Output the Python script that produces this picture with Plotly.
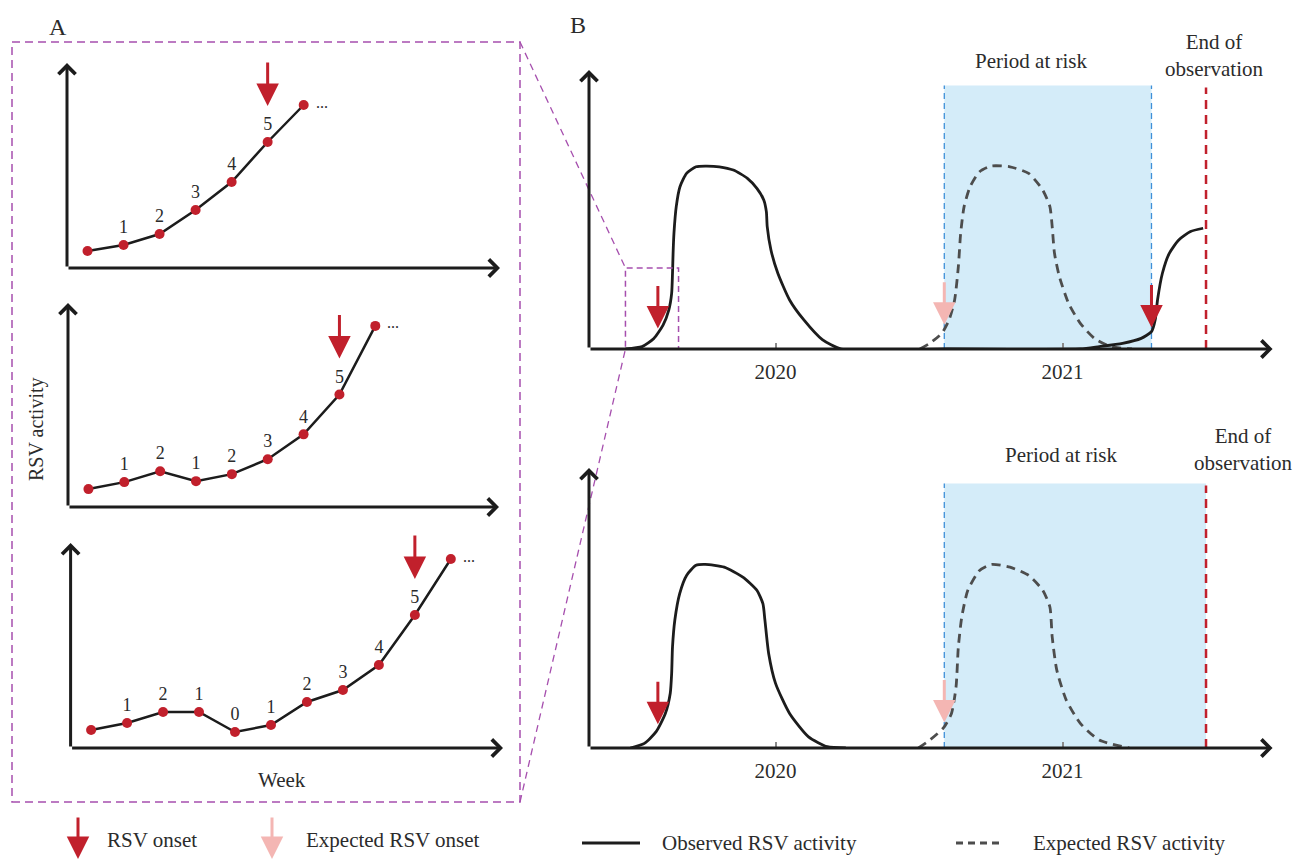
import numpy as np
import plotly.graph_objects as go

W, H = 1295, 865
FONT = "Liberation Serif, Times New Roman, serif"
RED = "#C1202C"
PINK = "#F4B6B3"
BLUE_FILL = "#D4ECF9"
BLUE_LINE = "#3E8FD8"
PURPLE = "#A64FAE"
GREY_DASH = "#4d4d4d"
INK = "#1c1c1c"
TXT = "#2b2b2b"

# ---------------- Data: panel A (weekly RSV activity, consecutive-increase counts) ----
a1_week = [0, 1, 2, 3, 4, 5, 6]
a1_activity = [1.7, 2.3, 3.4, 5.8, 8.6, 12.6, 16.3]
a1_label = ["", "1", "2", "3", "4", "5", ""]

a2_week = [0, 1, 2, 3, 4, 5, 6, 7, 8]
a2_activity = [1.8, 2.5, 3.6, 2.6, 3.3, 4.8, 7.3, 11.3, 18.2]
a2_label = ["", "1", "2", "1", "2", "3", "4", "5", ""]

a3_week = [0, 1, 2, 3, 4, 5, 6, 7, 8, 9, 10]
a3_activity = [1.8, 2.5, 3.6, 3.6, 1.6, 2.3, 4.6, 5.8, 8.3, 13.3, 18.9]
a3_label = ["", "1", "2", "1", "0", "1", "2", "3", "4", "5", ""]

onset_count = "5"

# ---------------- Data: panel B (schematic seasons, activity relative to peak) ------
b1_obs_year = [2019.477, 2019.535, 2019.576, 2019.608, 2019.628, 2019.638, 2019.641,
               2019.643, 2019.646, 2019.654, 2019.667, 2019.690, 2019.723, 2019.755,
               2019.804, 2019.853, 2019.902, 2019.935, 2019.959, 2019.968, 2019.971,
               2019.984, 2020.008, 2020.049, 2020.098, 2020.163, 2020.229, 2020.6,
               2021.062, 2021.128, 2021.209, 2021.274, 2021.310, 2021.323, 2021.331,
               2021.348, 2021.372, 2021.405, 2021.446, 2021.490]
b1_obs_value = [0, 0.013, 0.058, 0.131, 0.213, 0.304, 0.414,
                0.523, 0.632, 0.778, 0.887, 0.960, 0.996, 1.0,
                0.996, 0.978, 0.933, 0.878, 0.815, 0.751, 0.669,
                0.541, 0.414, 0.268, 0.160, 0.051, 0, 0,
                0, 0.013, 0.031, 0.058, 0.095, 0.160, 0.268,
                0.414, 0.523, 0.596, 0.642, 0.660]

b1_exp_year = [2020.503, 2020.539, 2020.580, 2020.605, 2020.624, 2020.637, 2020.645,
               2020.657, 2020.678, 2020.711, 2020.752, 2020.817, 2020.882, 2020.931,
               2020.956, 2020.964, 2020.972, 2020.989, 2021.021, 2021.062, 2021.111,
               2021.168, 2021.242]
b1_exp_value = [0, 0.033, 0.087, 0.160, 0.268, 0.450, 0.632,
                0.778, 0.887, 0.969, 1.0, 0.996, 0.960, 0.869,
                0.778, 0.669, 0.523, 0.396, 0.250, 0.140, 0.058,
                0.013, 0]

b2_obs_year = [2019.494, 2019.543, 2019.584, 2019.616, 2019.633, 2019.638, 2019.641,
               2019.649, 2019.666, 2019.690, 2019.723, 2019.755, 2019.821, 2019.886,
               2019.935, 2019.956, 2019.963, 2019.976, 2020.000, 2020.049, 2020.115,
               2020.180, 2020.245]
b2_obs_value = [0, 0.025, 0.089, 0.188, 0.297, 0.406, 0.551,
                0.696, 0.841, 0.940, 0.995, 1.0, 0.985, 0.931,
                0.859, 0.786, 0.696, 0.515, 0.352, 0.188, 0.061,
                0.007, 0]

b2_exp_year = [2020.498, 2020.539, 2020.585, 2020.613, 2020.629, 2020.637, 2020.649,
               2020.670, 2020.711, 2020.752, 2020.817, 2020.882, 2020.931, 2020.956,
               2020.964, 2020.980, 2021.013, 2021.062, 2021.128, 2021.233]
b2_exp_value = [0, 0.045, 0.109, 0.188, 0.333, 0.551, 0.714,
                0.859, 0.967, 1.0, 0.985, 0.940, 0.859, 0.768,
                0.605, 0.424, 0.261, 0.134, 0.043, 0]

obs_onset_2020 = 2019.59
exp_onset_2021 = 2020.588
b1_obs_onset_2021 = 2021.310
end_of_observation = 2021.5
year_ticks = [2020, 2021]
year_labels = ["2020", "2021"]

# ---------------- Layout geometry (pixels) ----------------
def pxx(p):
    return p / W


def pxy(p):
    return 1 - p / H


# name: (x_left, x_right, y_bottom, y_top) in pixels
geo = {
    "A1": (67, 500, 268, 63),
    "A2": (68, 499, 507, 303),
    "A3": (70.6, 503, 748, 543),
    "B1": (589, 1272.6, 349, 70),
    "B2": (589, 1272.6, 748, 468),
}
axes_ids = {"A1": "", "A2": "2", "A3": "3", "B1": "4", "B2": "5"}
A_XR = [-0.57, 11.45]
A_YR = [0, 20.5]
B_XR = [2019.35, 2021.732]
B_YR = [0, 1.525]

fig = go.Figure()
annotations = []
shapes = []
layout_axes = {}


def text_ann(px, py, text, size=21, **kw):
    d = dict(x=pxx(px), y=pxy(py), xref="paper", yref="paper", text=text, showarrow=False,
             xanchor="center", yanchor="middle", font=dict(family=FONT, size=size, color=TXT))
    d.update(kw)
    return d


for name, (xl, xr, yb, yt) in geo.items():
    sfx = axes_ids[name]
    isB = name.startswith("B")
    xr_ = B_XR if isB else A_XR
    yr_ = B_YR if isB else A_YR
    xa = dict(domain=[pxx(xl), pxx(xr)], range=xr_, anchor="y" + sfx,
              showgrid=False, zeroline=False, showline=False, fixedrange=True)
    if isB:
        xa.update(visible=True, tickmode="array", tickvals=year_ticks, ticktext=year_labels,
                  ticks="inside", ticklen=6, tickwidth=1.5, tickcolor="#8a8a8a",
                  tickfont=dict(family=FONT, size=21, color=TXT), ticklabelstandoff=8)
    else:
        xa.update(visible=False)
    ya = dict(domain=[pxy(yb), pxy(yt)], range=yr_, anchor="x" + sfx, visible=False,
              showgrid=False, zeroline=False, fixedrange=True)
    layout_axes["xaxis" + sfx] = xa
    layout_axes["yaxis" + sfx] = ya
    # axis arrows
    xref, yref = "x" + sfx, "y" + sfx
    for tip, tail in [((xr_[1], yr_[0]), (xr_[0], yr_[0])), ((xr_[0], yr_[1]), (xr_[0], yr_[0]))]:
        annotations.append(dict(x=tip[0], y=tip[1], ax=tail[0], ay=tail[1], xref=xref, yref=yref,
                                axref=xref, ayref=yref, text="", showarrow=True, arrowhead=4,
                                arrowsize=1.1, arrowwidth=3, arrowcolor=INK, standoff=0))

# ---------------- Panel A traces ----------------
for name, wk, act, lab in [("A1", a1_week, a1_activity, a1_label),
                           ("A2", a2_week, a2_activity, a2_label),
                           ("A3", a3_week, a3_activity, a3_label)]:
    sfx = axes_ids[name]
    fig.add_trace(go.Scatter(x=wk, y=act, mode="lines+markers+text", text=lab,
                             textposition="top center",
                             textfont=dict(family=FONT, size=18, color=TXT),
                             line=dict(color=INK, width=2.5),
                             marker=dict(color=RED, size=10),
                             xaxis="x" + sfx, yaxis="y" + sfx, showlegend=False, cliponaxis=False))
    k = lab.index(onset_count)
    annotations.append(dict(x=wk[k], y=act[k], xref="x" + sfx, yref="y" + sfx, text="",
                            showarrow=True, arrowhead=2, arrowsize=1.5, arrowwidth=3,
                            arrowcolor=RED, ax=0, ay=-45, yshift=36))
    annotations.append(dict(x=wk[-1], y=act[-1], xref="x" + sfx, yref="y" + sfx, text="...",
                            showarrow=False, xanchor="left", yanchor="middle", xshift=10, yshift=3,
                            font=dict(family=FONT, size=16, color=TXT)))

# ---------------- Panel B ----------------
for name, oy, ov, ey, ev, risk_end in [("B1", b1_obs_year, b1_obs_value, b1_exp_year, b1_exp_value, b1_obs_onset_2021),
                                       ("B2", b2_obs_year, b2_obs_value, b2_exp_year, b2_exp_value, end_of_observation)]:
    sfx = axes_ids[name]
    xref, yref = "x" + sfx, "y" + sfx
    shapes.append(dict(type="rect", xref=xref, yref=yref, x0=exp_onset_2021, x1=risk_end,
                       y0=0, y1=1.44, fillcolor=BLUE_FILL, line=dict(width=0), layer="below"))
    shapes.append(dict(type="line", xref=xref, yref=yref, x0=exp_onset_2021, x1=exp_onset_2021,
                       y0=0, y1=1.44, line=dict(color=BLUE_LINE, width=1.3, dash="6px,4px"), layer="below"))
    if risk_end != end_of_observation:
        shapes.append(dict(type="line", xref=xref, yref=yref, x0=risk_end, x1=risk_end,
                           y0=0, y1=1.44, line=dict(color=BLUE_LINE, width=1.3, dash="6px,4px"), layer="below"))
    shapes.append(dict(type="line", xref=xref, yref=yref, x0=end_of_observation, x1=end_of_observation,
                       y0=0, y1=1.43, line=dict(color=RED, width=2.5, dash="9px,6px")))
    fig.add_trace(go.Scatter(x=ey, y=ev, mode="lines", line=dict(color=GREY_DASH, width=2.8, dash="9px,6px",
                             shape="spline", smoothing=0.6), xaxis=xref, yaxis=yref, showlegend=False))
    fig.add_trace(go.Scatter(x=oy, y=ov, mode="lines", line=dict(color=INK, width=2.8,
                             shape="spline", smoothing=0.6), xaxis=xref, yaxis=yref, showlegend=False))
    # onset arrows
    arrows = [(obs_onset_2020, float(np.interp(obs_onset_2020, oy, ov)), RED),
              (exp_onset_2021, float(np.interp(exp_onset_2021, ey, ev)), PINK)]
    if name == "B1":
        arrows.append((b1_obs_onset_2021, float(np.interp(b1_obs_onset_2021, oy, ov)), RED))
    for ax_, av_, col in arrows:
        annotations.append(dict(x=ax_, y=av_, xref=xref, yref=yref, text="", showarrow=True,
                                arrowhead=2, arrowsize=1.5, arrowwidth=3, arrowcolor=col,
                                ax=0, ay=-48, standoff=4))

annotations += [
    text_ann(1031, 61, "Period at risk"),
    text_ann(1214, 55, "End of<br>observation"),
    text_ann(1061, 455, "Period at risk"),
    text_ann(1243, 450, "End of<br>observation"),
    text_ann(58, 27, "A", size=24),
    text_ann(578, 25, "B", size=24),
    text_ann(36, 429, "RSV activity", size=20, textangle=-90),
    text_ann(282, 780, "Week"),
]

# ---------------- Zoom box and connectors ----------------
def b1_to_px(year, val):
    xl, xr, yb, yt = geo["B1"]
    px = xl + (year - B_XR[0]) / (B_XR[1] - B_XR[0]) * (xr - xl)
    py = yb - (val - B_YR[0]) / (B_YR[1] - B_YR[0]) * (yb - yt)
    return px, py

zx0, zy0 = b1_to_px(2019.477, 0)
zx1, zy1 = b1_to_px(2019.662, 0.443)
shapes.append(dict(type="rect", xref="paper", yref="paper", x0=pxx(zx0), x1=pxx(zx1), y0=pxy(zy0), y1=pxy(zy1),
                   line=dict(color=PURPLE, width=1.5, dash="6px,4px")))
box = (12, 42, 520, 802)
shapes.append(dict(type="rect", xref="paper", yref="paper", x0=pxx(box[0]), x1=pxx(box[2]),
                   y0=pxy(box[3]), y1=pxy(box[1]), line=dict(color=PURPLE, width=1.5, dash="8px,5px")))
shapes.append(dict(type="line", xref="paper", yref="paper", x0=pxx(box[2]), y0=pxy(box[1]),
                   x1=pxx(zx0), y1=pxy(zy1), line=dict(color=PURPLE, width=1.3, dash="7px,5px")))
shapes.append(dict(type="line", xref="paper", yref="paper", x0=pxx(box[2]), y0=pxy(box[3]),
                   x1=pxx(zx0), y1=pxy(zy0), line=dict(color=PURPLE, width=1.3, dash="7px,5px")))

# ---------------- Legend (custom) ----------------
for xp, col, label, tx in [(78, RED, "RSV onset", 105), (272, PINK, "Expected RSV onset", 304)]:
    annotations.append(dict(x=pxx(xp), y=pxy(862), xref="paper", yref="paper", text="", showarrow=True,
                            arrowhead=2, arrowsize=1.5, arrowwidth=3, arrowcolor=col, ax=0, ay=-46, standoff=3))
    annotations.append(text_ann(tx, 840, label, xanchor="left"))
shapes.append(dict(type="line", xref="paper", yref="paper", x0=pxx(582), x1=pxx(640), y0=pxy(843), y1=pxy(843),
                   line=dict(color=INK, width=3)))
shapes.append(dict(type="line", xref="paper", yref="paper", x0=pxx(956), x1=pxx(1001), y0=pxy(843), y1=pxy(843),
                   line=dict(color=GREY_DASH, width=3, dash="7px,5px")))
annotations.append(text_ann(660, 843, "Observed RSV activity", xanchor="left"))
annotations.append(text_ann(1031, 843, "Expected RSV activity", xanchor="left"))

fig.update_layout(width=W, height=H, margin=dict(l=0, r=0, t=0, b=0), paper_bgcolor="white",
                  plot_bgcolor="rgba(0,0,0,0)", showlegend=False, annotations=annotations, shapes=shapes,
                  font=dict(family=FONT))
fig.update_layout(**layout_axes)
fig.write_html("out.html", config={"displayModeBar": False},
               post_script="document.body.style.margin='0';document.body.style.overflow='hidden';")
